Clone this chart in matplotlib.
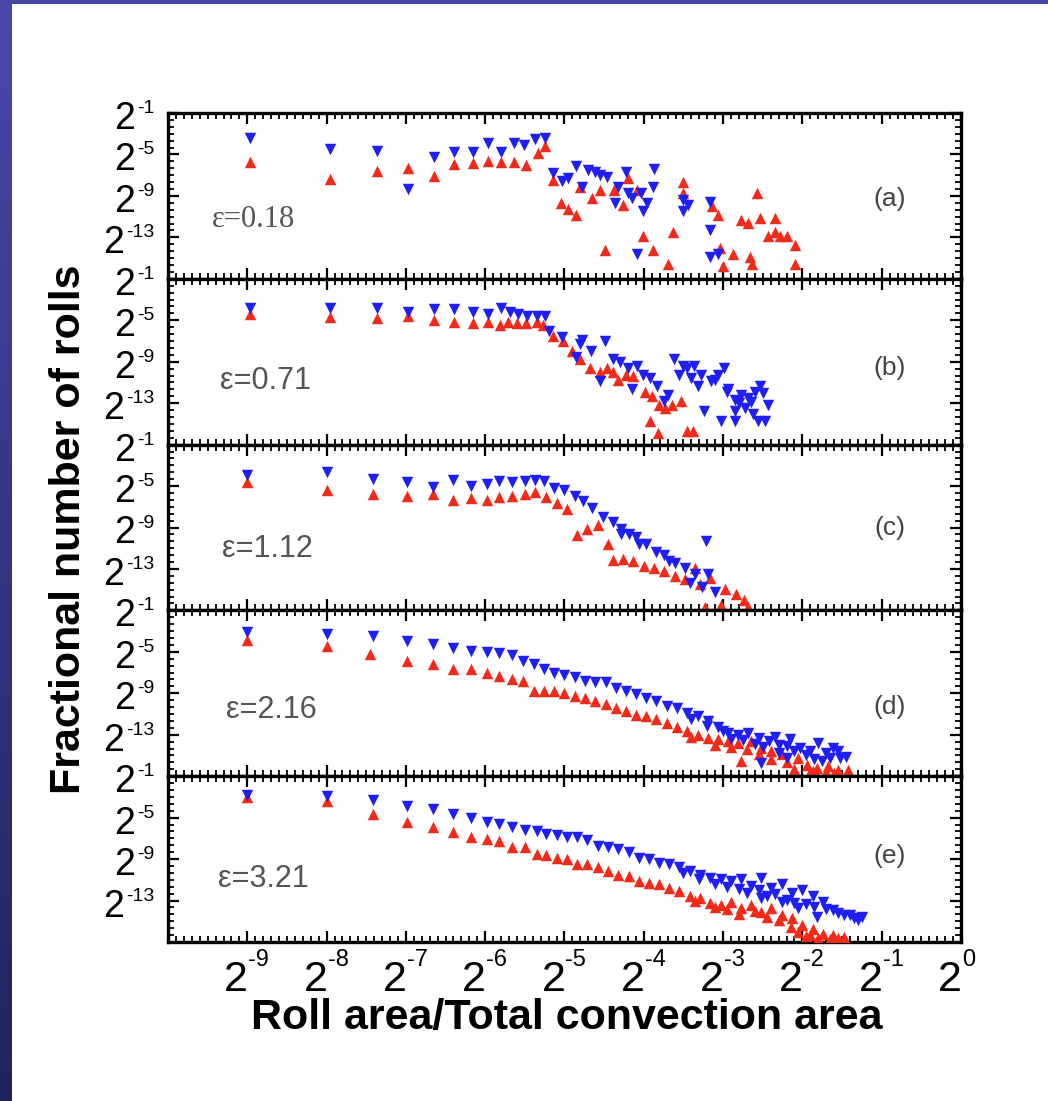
import numpy as np
import matplotlib
matplotlib.use("Agg")
import matplotlib.pyplot as plt
from matplotlib.ticker import FixedLocator, NullFormatter

plt.rcParams['font.family'] = ['Liberation Sans', 'DejaVu Sans']

# all values are log2 exponents
# panel (a) eps = 0.18
a_blue_x = [-8.97, -7.96, -7.37, -6.97, -6.65, -6.39, -6.15, -5.96, -5.80, -5.64, -5.51, -5.37, -5.24,
            -5.15, -5.03, -4.95, -4.86, -4.78, -4.70, -4.61, -4.55, -4.46, -4.36, -4.32, -4.23, -4.20,
            -4.15, -4.04, -4.01, -3.96, -3.89, -3.87, -4.08, -3.50, -3.50, -3.44, -3.16, -3.17, -3.16, -3.07]
a_blue_y = [-3.4, -4.5, -4.65, -8.3, -5.2, -4.75, -4.75, -3.9, -4.75, -3.9, -4.1, -3.5, -3.4,
            -6.8, -7.6, -7.25, -6.1, -8.1, -6.5, -6.7, -7.0, -7.15, -9.65, -8.1, -6.7, -8.7,
            -9.2, -8.7, -10.5, -9.65, -8.1, -6.4, -14.65, -9.4, -10.5, -9.85, -9.6, -12.25, -14.85, -14.65]
a_red_x = [-8.97, -7.96, -7.37, -6.97, -6.65, -6.39, -6.15, -5.96, -5.80, -5.64, -5.49, -5.34, -5.24,
           -5.15, -5.05, -4.96, -4.86, -4.80, -4.65, -4.55, -4.38, -4.26, -4.20, -4.08, -4.01, -3.88,
           -4.49, -3.63, -3.69, -3.51, -3.50, -3.14, -3.06, -3.04, -3.00, -2.87, -2.78, -2.69, -2.66,
           -2.63, -2.57, -2.53, -2.44, -2.34, -2.34, -2.28, -2.19, -2.09, -2.09]
a_red_y = [-5.7, -7.35, -6.6, -6.3, -7.05, -5.9, -5.8, -5.6, -5.7, -5.7, -6.0, -4.85, -4.2,
           -7.45, -9.65, -10.3, -10.8, -8.1, -9.2, -8.4, -8.4, -9.85, -7.25, -8.4, -12.9, -14.2,
           -14.2, -12.5, -15.6, -7.7, -8.7, -10.0, -10.8, -14.0, -15.8, -14.65, -11.3, -11.6, -14.85,
           -15.6, -8.7, -11.1, -12.9, -11.1, -12.5, -12.9, -12.9, -13.7, -15.6]

# panel (b) eps = 0.71
b_blue_x = [-8.97, -7.96, -7.37, -6.97, -6.64, -6.39, -6.15, -5.96, -5.80, -5.69, -5.59, -5.47, -5.35,
            -5.24, -5.19, -5.03, -4.85, -4.80, -4.78, -4.66, -4.55, -4.49, -4.39, -4.30, -4.20, -4.15,
            -4.08, -4.01, -3.92, -3.83, -3.75, -3.70, -3.62, -3.56, -3.50, -3.45, -3.37, -3.28, -3.24,
            -3.32, -3.15, -3.06, -2.99, -3.03, -2.94, -2.85, -2.77, -2.69, -2.60, -2.54, -2.85, -2.72,
            -2.62, -2.56, -2.47, -2.43, -2.85, -3.10, -2.95, -2.80, -2.65, -2.50, -3.40]
b_blue_y = [-3.8, -3.8, -3.8, -4.2, -3.9, -3.9, -4.2, -4.4, -3.8, -4.2, -4.4, -4.55, -4.55,
            -4.55, -6.0, -6.6, -8.5, -7.25, -6.95, -8.0, -10.9, -7.05, -8.7, -9.0, -9.65, -11.6,
            -9.4, -10.3, -10.6, -11.3, -12.8, -12.25, -8.7, -10.3, -9.4, -9.65, -9.4, -10.3, -13.8,
            -11.3, -10.9, -10.3, -9.65, -14.75, -11.6, -12.7, -12.25, -12.55, -11.9, -11.3, -14.75,
            -13.5, -14.0, -14.75, -14.75, -13.2, -13.8, -10.8, -11.9, -13.0, -12.9, -12.0, -10.6]
b_red_x = [-8.97, -7.96, -7.37, -6.97, -6.64, -6.39, -6.15, -5.96, -5.81, -5.71, -5.60, -5.49, -5.35,
           -5.27, -5.15, -5.02, -4.91, -4.80, -4.68, -4.55, -4.47, -4.39, -4.32, -4.23, -4.13, -3.98,
           -3.90, -3.81, -3.73, -3.65, -3.53, -3.92, -3.82, -3.46, -3.38]
b_red_y = [-4.4, -4.65, -4.75, -4.55, -5.0, -5.15, -5.3, -5.15, -5.5, -5.15, -5.3, -5.3, -5.15,
           -5.5, -6.5, -7.05, -8.0, -8.7, -9.65, -9.95, -9.65, -9.95, -10.8, -10.3, -10.4, -11.9,
           -12.35, -13.2, -13.5, -13.2, -12.8, -14.75, -15.9, -15.7, -15.7]

# panel (c) eps = 1.12
c_blue_x = [-9.0, -8.0, -7.41, -6.98, -6.66, -6.40, -6.18, -5.98, -5.82, -5.66, -5.50, -5.37, -5.26,
            -5.13, -5.00, -4.87, -4.77, -4.65, -4.52, -4.39, -4.29, -4.19, -4.10, -3.97, -3.84, -3.74,
            -3.61, -3.48, -3.35, -3.21, -3.19, -3.10, -3.26, -3.42, -4.29, -4.06, -3.68]
c_blue_y = [-3.9, -3.65, -4.3, -4.6, -5.1, -4.45, -4.95, -4.8, -4.55, -4.6, -4.55, -4.45, -4.55,
            -5.2, -5.35, -5.95, -6.45, -7.1, -7.95, -8.5, -9.1, -9.6, -9.9, -10.6, -11.4, -11.7,
            -12.4, -12.9, -13.5, -10.3, -13.5, -15.2, -14.7, -14.4, -9.6, -10.6, -12.2]
c_red_x = [-9.0, -8.0, -7.41, -6.98, -6.66, -6.40, -6.18, -5.98, -5.82, -5.66, -5.50, -5.37, -5.23,
           -5.10, -4.97, -4.84, -4.71, -4.58, -4.45, -4.39, -4.26, -4.13, -4.00, -3.87, -3.74, -3.61,
           -3.48, -3.35, -3.29, -3.16, -2.97, -2.84, -2.74, -2.68, -3.23, -3.03]
c_red_y = [-4.6, -5.35, -5.8, -5.95, -5.8, -6.3, -6.2, -6.3, -6.1, -5.95, -5.8, -5.55, -6.1,
           -6.6, -7.2, -9.75, -9.1, -8.75, -10.6, -12.15, -12.05, -12.2, -12.7, -12.9, -13.2, -13.7,
           -14.0, -12.9, -14.5, -13.9, -14.9, -15.4, -16.0, -16.7, -16.7, -16.5]

# panel (d) eps = 2.16
d_blue_x = [-9.0, -8.0, -7.41, -6.98, -6.66, -6.40, -6.18, -5.98, -5.82, -5.66, -5.52, -5.39, -5.26,
            -5.13, -5.00, -4.87, -4.74, -4.61, -4.48, -4.35, -4.23, -4.10, -3.97, -3.84, -3.71, -3.58,
            -3.45, -3.32, -3.19, -3.06, -2.94, -2.81, -2.68, -2.55, -2.42, -2.29, -2.16, -2.03, -1.90,
            -1.80, -1.70, -1.61, -1.52, -1.45, -2.52, -2.29, -2.19,
            -3.40, -3.20, -3.00, -2.90, -2.75, -2.60, -2.50, -2.35, -2.20, -2.10, -1.95, -1.85, -1.75,
            -1.65, -1.55]
d_blue_y = [-3.1, -3.3, -3.5, -4.0, -4.25, -4.6, -4.9, -5.05, -5.15, -5.35, -5.85, -6.2, -6.65,
            -7.0, -7.2, -7.4, -7.8, -7.95, -7.95, -8.45, -8.75, -9.1, -9.5, -9.75, -10.2, -10.4,
            -10.9, -11.2, -11.7, -12.3, -12.8, -13.0, -12.8, -13.3, -13.6, -13.95, -13.45, -14.3, -14.6,
            -13.8, -14.8, -14.3, -15.2, -15.1, -15.7, -14.8, -15.2,
            -11.5, -12.2, -12.6, -13.4, -13.5, -13.9, -14.2, -13.2, -14.1, -14.6, -15.0, -15.3, -15.5,
            -15.2, -14.6]
d_red_x = [-9.0, -8.0, -7.45, -6.98, -6.66, -6.40, -6.18, -5.98, -5.82, -5.66, -5.52, -5.39, -5.26,
           -5.13, -5.00, -4.87, -4.74, -4.61, -4.48, -4.35, -4.23, -4.10, -3.97, -3.84, -3.71, -3.58,
           -3.45, -3.32, -3.19, -3.06, -2.94, -2.81, -2.65, -2.77, -2.52, -2.39, -2.26, -2.06, -1.94,
           -1.81, -1.68, -1.55, -1.42, -1.87,
           -3.40, -3.10, -2.90, -2.70, -2.55, -2.40, -2.20, -2.10, -1.90, -1.70, -1.60]
d_red_y = [-3.85, -4.4, -5.2, -5.85, -6.2, -6.65, -6.65, -7.0, -7.3, -7.65, -7.8, -8.75, -8.75,
           -8.8, -9.0, -9.25, -9.5, -9.75, -10.05, -10.4, -10.7, -11.1, -11.2, -11.5, -11.85, -12.3,
           -12.65, -13.0, -13.3, -13.45, -13.6, -13.8, -13.6, -15.55, -14.3, -14.6, -14.9, -15.25, -15.9,
           -16.2, -16.05, -16.4, -16.4, -16.5,
           -13.2, -14.0, -14.2, -14.4, -14.9, -15.3, -15.6, -16.3, -16.6, -16.6, -16.7]

# panel (e) eps = 3.21
e_blue_x = [-9.0, -8.0, -7.41, -6.98, -6.66, -6.40, -6.18, -5.98, -5.82, -5.66, -5.50, -5.35, -5.23,
            -5.10, -4.97, -4.84, -4.71, -4.58, -4.45, -4.32, -4.19, -4.06, -3.94, -3.81, -3.68, -3.55,
            -3.42, -3.29, -3.16, -3.03, -2.90, -2.77, -2.65, -2.52, -2.39, -2.26, -2.13, -2.00, -1.87,
            -1.74, -1.61, -1.48, -1.35, -1.25, -1.81, -2.06, -2.26, -2.52,
            -3.50, -3.30, -3.10, -2.95, -2.80, -2.70, -2.55, -2.45, -2.35, -2.20, -2.10, -1.95, -1.85,
            -1.70, -1.55, -1.40, -1.30]
e_blue_y = [-2.8, -2.9, -3.3, -3.9, -4.2, -4.6, -5.0, -5.4, -5.65, -5.9, -6.15, -6.3, -6.55,
            -6.7, -6.9, -6.9, -7.2, -7.7, -7.85, -8.0, -8.35, -8.85, -9.0, -9.35, -9.5, -9.8,
            -10.15, -10.5, -10.8, -10.95, -11.1, -10.95, -11.6, -10.8, -11.8, -11.45, -12.3, -11.95, -12.6,
            -13.1, -13.9, -14.4, -14.7, -14.55, -14.55, -13.75, -13.1, -12.75,
            -10.3, -10.9, -11.4, -11.7, -11.9, -12.3, -12.0, -12.6, -12.4, -12.9, -13.2, -13.3, -13.6,
            -13.8, -14.2, -14.4, -14.9]
e_red_x = [-9.0, -8.0, -7.41, -6.98, -6.66, -6.40, -6.18, -5.98, -5.82, -5.66, -5.50, -5.35, -5.23,
           -5.10, -4.97, -4.84, -4.71, -4.58, -4.45, -4.32, -4.19, -4.06, -3.94, -3.81, -3.68, -3.55,
           -3.42, -3.29, -3.16, -3.03, -2.90, -2.77, -2.65, -2.52, -2.39, -2.26, -2.13, -2.00, -1.87,
           -1.74, -1.61, -1.48, -1.90,
           -3.35, -3.10, -2.95, -2.80, -2.60, -2.45, -2.30, -2.15, -2.05, -1.95, -1.80, -1.65, -1.55]
e_red_y = [-3.0, -3.35, -4.6, -5.4, -5.9, -6.4, -6.9, -7.05, -7.3, -7.85, -7.85, -8.5, -8.6,
           -8.85, -9.0, -9.5, -9.5, -9.8, -10.15, -10.5, -10.6, -11.1, -11.3, -11.45, -11.8, -12.1,
           -12.6, -12.75, -13.25, -13.4, -13.1, -13.75, -13.4, -14.1, -13.75, -14.4, -14.7, -15.4, -15.7,
           -16.2, -16.35, -16.5, -16.35,
           -13.0, -13.6, -13.8, -14.3, -14.0, -14.6, -14.9, -15.6, -16.0, -16.4, -16.6, -16.7, -16.6]

panels = [
    (a_blue_x, a_blue_y, a_red_x, a_red_y),
    (b_blue_x, b_blue_y, b_red_x, b_red_y),
    (c_blue_x, c_blue_y, c_red_x, c_red_y),
    (d_blue_x, d_blue_y, d_red_x, d_red_y),
    (e_blue_x, e_blue_y, e_red_x, e_red_y),
]
eps_labels = ["ε=0.18", "ε=0.71", "ε=1.12", "ε=2.16", "ε=3.21"]
eps_pos = [(0.055, 0.355), (0.066, 0.386), (0.068, 0.37), (0.073, 0.40), (0.063, 0.38)]
tags = ["(a)", "(b)", "(c)", "(d)", "(e)"]
tag_y = [0.48, 0.46, 0.50, 0.42, 0.52]

x_ticks = list(range(-9, 1))
y_ticks = [-1, -5, -9, -13]

PX = 72 / 100  # points per pixel

fig = plt.figure(figsize=(10.48, 11.01), dpi=100)
fig.patch.set_facecolor('white')
renderer = fig.canvas.get_renderer()

# blue slide frame on left and top
grad = np.linspace(0, 1, 256).reshape(-1, 1)
bg_left = fig.add_axes([0, 0, 12 / 1048, 1], zorder=-5)
bg_left.imshow(grad, aspect='auto', cmap=matplotlib.colors.LinearSegmentedColormap.from_list(
    'slide', ['#4848a8', '#22225e']), extent=[0, 1, 0, 1])
bg_left.axis('off')
bg_top = fig.add_axes([0, 1 - 4 / 1101, 1, 4 / 1101], zorder=-5)
bg_top.set_facecolor('#4646a6')
bg_top.set_xticks([]); bg_top.set_yticks([])
for s in bg_top.spines.values():
    s.set_visible(False)

left, right = 168 / 1048, 961 / 1048
top, bottom = 1 - 113 / 1101, 1 - 942 / 1101
h = (top - bottom) / 5

for i, (bx, by, rx, ry) in enumerate(panels):
    ax = fig.add_axes([left, top - (i + 1) * h, right - left, h])
    ax.set_xscale('log', base=2)
    ax.set_yscale('log', base=2)
    ax.scatter(2.0 ** np.array(rx), 2.0 ** np.array(ry), marker='^', s=68,
               color='#f22a1a', linewidths=0, zorder=3)
    ax.scatter(2.0 ** np.array(bx), 2.0 ** np.array(by), marker='v', s=68,
               color='#1e1ef5', linewidths=0, zorder=3)
    ax.set_xlim(2.0 ** -10, 2.0 ** 0)
    ax.set_ylim(2.0 ** -17, 2.0 ** -1)

    ax.xaxis.set_major_locator(FixedLocator([2.0 ** k for k in x_ticks]))
    ax.xaxis.set_minor_locator(FixedLocator(2.0 ** (np.arange(-100, 1) / 10)))
    ax.yaxis.set_major_locator(FixedLocator([2.0 ** k for k in y_ticks]))
    ax.yaxis.set_minor_locator(FixedLocator(2.0 ** (-1 - np.arange(0, 25) * 2 / 3)))
    ax.xaxis.set_minor_formatter(NullFormatter())
    ax.yaxis.set_minor_formatter(NullFormatter())
    ax.set_xticklabels([])
    ax.set_yticklabels([])

    ax.tick_params(which='both', direction='in', top=True, right=True, color='black')
    ax.tick_params(which='major', length=8, width=1.6)
    ax.tick_params(which='minor', length=4, width=1.3)
    for s in ax.spines.values():
        s.set_linewidth(2.4)

    # y tick labels: big "2" with small raised exponent
    for k in y_ticks:
        sup = ax.annotate(str(k), xy=(0, 2.0 ** k), xycoords=('axes fraction', 'data'),
                          xytext=(-10, 0), textcoords='offset points', ha='right',
                          va='baseline', fontsize=14, annotation_clip=False)
        w = sup.get_window_extent(renderer).width * PX
        ax.annotate('2', xy=(0, 2.0 ** k), xycoords=('axes fraction', 'data'),
                    xytext=(-11 - w, -11.5), textcoords='offset points', ha='right',
                    va='baseline', fontsize=27, annotation_clip=False)

    if i == 4:
        for k in x_ticks:
            ax.annotate('2', xy=(2.0 ** k, 0), xycoords=('data', 'axes fraction'),
                        xytext=(-8, -35), textcoords='offset points', ha='center',
                        va='baseline', fontsize=31, annotation_clip=False)
            ax.annotate(str(k), xy=(2.0 ** k, 0), xycoords=('data', 'axes fraction'),
                        xytext=(0.7, -17), textcoords='offset points', ha='left',
                        va='baseline', fontsize=17, annotation_clip=False)

    ex, ey = eps_pos[i]
    if i == 0:
        ax.text(ex, ey, eps_labels[i], transform=ax.transAxes, fontsize=22,
                family='Liberation Serif', color='#555555', va='center')
    else:
        ax.text(ex, ey, eps_labels[i], transform=ax.transAxes, fontsize=22,
                color='#555555', va='center')
    ax.text(0.91, tag_y[i], tags[i], transform=ax.transAxes, fontsize=19,
            color='#444444', ha='center', va='center')

fig.text(0.066, 0.519, 'Fractional number of rolls', rotation=90, fontsize=31,
         fontweight='bold', ha='center', va='center')
fig.text(0.541, 0.094, 'Roll area/Total convection area', fontsize=31,
         fontweight='bold', ha='center', va='top')

fig.savefig('out.png', dpi=100, facecolor='white')
